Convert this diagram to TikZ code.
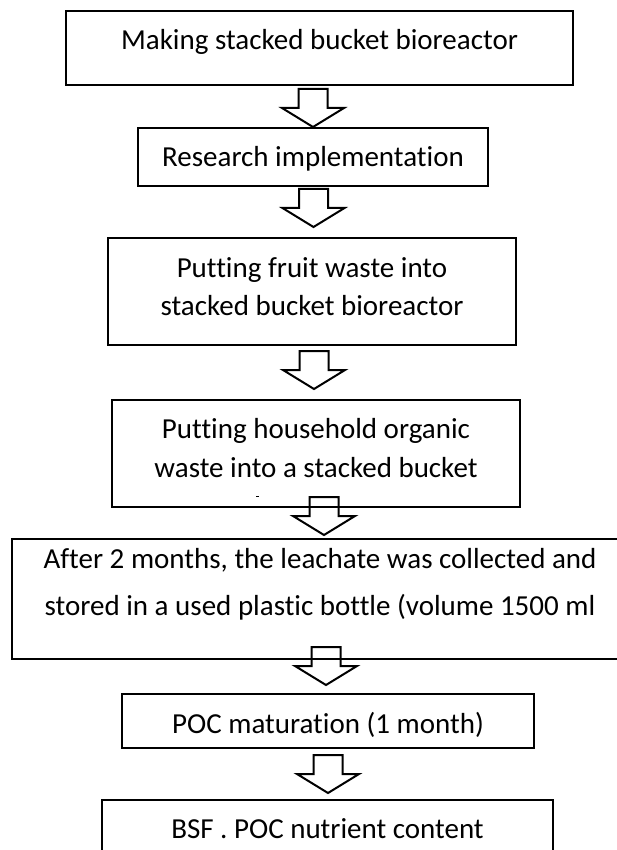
\documentclass[tikz,border=0pt]{standalone}
\usepackage{fontspec}
\setmainfont{Carlito}[Ligatures=NoCommon]
\begin{document}
\begin{tikzpicture}[x=1pt,y=-1pt,
  box/.style={draw, line width=2.5pt, inner sep=0pt, outer sep=0pt, anchor=north west},
  txt/.style={anchor=base, inner sep=0pt, font=\fontsize{29}{35}\selectfont},
  barrow/.style={draw, line width=2pt, line join=miter},
  pics/blockarr/.style={code={\draw[barrow] (-14.5,0) -- (14.5,0) -- (14.5,19) -- (31,19) -- (0,38) -- (-31,19) -- (-14.5,19) -- cycle;}}]
\useasboundingbox (0,0) rectangle (617,850);
\fill[white] (0,0) rectangle (617,850);
\clip (0,0) rectangle (617,850);
% boxes
\node[box, minimum width=507pt, minimum height=74pt] (b1) at (66,11) {};
\node[txt] (t1) at (319.5,50) {Making stacked bucket bioreactor};
\node[box, minimum width=350pt, minimum height=58pt] (b2) at (138,128) {};
\node[txt] (t2) at (313,167) {Research implementation};
\node[box, minimum width=408pt, minimum height=107pt] (b3) at (108,238) {};
\node[txt] (t3a) at (312,277) {Putting fruit waste into};
\node[txt] (t3b) at (312,315) {stacked bucket bioreactor};
\node[box, minimum width=408pt, minimum height=107pt] (b4) at (112,400) {};
\node[txt] (t4a) at (316,438) {Putting household organic};
\node[txt] (t4b) at (316,477) {waste into a stacked bucket};
\draw[line width=1pt] (256,496) -- (258.5,496);
\node[box, minimum width=616pt, minimum height=120pt] (b5) at (12,539) {};
\node[txt] (t5a) at (320,568) {After 2 months, the leachate was collected and};
\node[txt] (t5b) at (320,615) {stored in a used plastic bottle (volume 1500 ml};
\node[box, minimum width=412pt, minimum height=54pt] (b6) at (122,694) {};
\node[txt] (t6) at (328,733) {POC maturation (1 month)};
\node[box, minimum width=451pt, minimum height=70pt] (b7) at (102,800) {};
\node[txt] (t7) at (327.5,838) {BSF . POC nutrient content};
% block arrows
\pic (a1) at (313,89) {blockarr};
\pic (a2) at (313.5,189) {blockarr};
\pic (a3) at (314,351) {blockarr};
\pic (a4) at (324,497) {blockarr};
\pic (a5) at (326,647) {blockarr};
\pic (a6) at (328,755) {blockarr};
\end{tikzpicture}
\end{document}
